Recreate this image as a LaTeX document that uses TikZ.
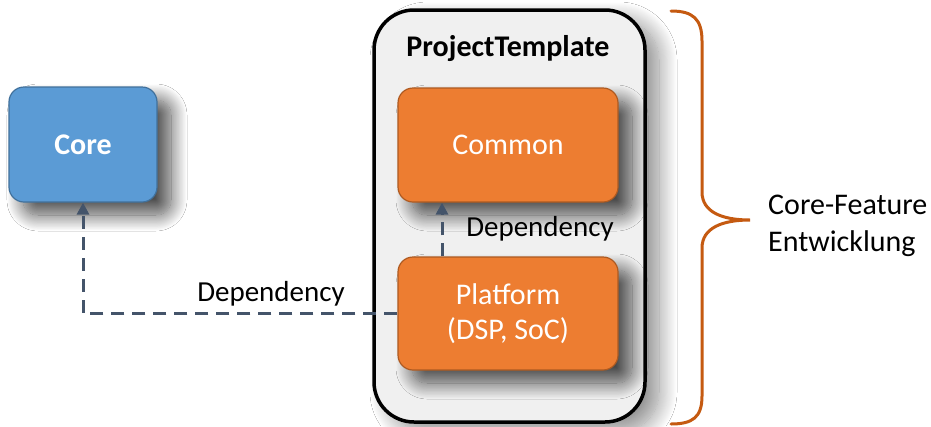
\documentclass[tikz,border=0pt]{standalone}
\usepackage{fontspec}
\setmainfont{Carlito}
\usetikzlibrary{arrows.meta,shadows.blur}

\definecolor{coreblue}{HTML}{5B9BD5}
\definecolor{coreedge}{HTML}{41719C}
\definecolor{orangefill}{HTML}{ED7D31}
\definecolor{orangeedge}{HTML}{AE5A21}
\definecolor{depline}{HTML}{44546A}
\definecolor{bracecol}{HTML}{C55A11}
\definecolor{panelfill}{HTML}{F0F0F0}

\tikzset{
  softshadow/.style={blur shadow={shadow xshift=14pt, shadow yshift=-13pt,
      shadow blur radius=16pt, shadow blur steps=20, shadow opacity=70}},
  boxtext/.style={font=\fontsize{30}{36}\selectfont, text=white, align=center},
  bluebox/.style={draw=coreedge, line width=1.2pt, fill=coreblue, rounded corners=15pt,
      inner sep=0pt, boxtext, font=\fontsize{30}{36}\selectfont\bfseries, softshadow},
  orangebox/.style={draw=orangeedge, line width=1.2pt, fill=orangefill, rounded corners=15pt,
      inner sep=0pt, minimum width=220pt, boxtext, softshadow},
  panel/.style={draw=black, line width=3.5pt, fill=panelfill, rounded corners=40pt,
      inner sep=0pt, blur shadow={shadow xshift=14pt, shadow yshift=-10pt,
      shadow blur radius=18pt, shadow blur steps=20, shadow opacity=45}},
  dep/.style={draw=depline, line width=3pt, dash pattern=on 13pt off 8pt,
      -{Triangle[length=12pt,width=12pt]}},
  deplabel/.style={font=\fontsize{29}{35}\selectfont, text=black, inner sep=0pt},
}

\begin{document}
\begin{tikzpicture}[x=1pt, y=-1pt]
  \useasboundingbox[fill=white] (0,0) rectangle (931,426);

  % project panel with its title
  \node[panel, minimum width=271pt, minimum height=412pt] (proj) at (509.5,216) {};
  \node[font=\fontsize{30}{36}\selectfont\bfseries, inner sep=0pt] (projtitle) at (508,49) {ProjectTemplate};

  % modules
  \node[bluebox, minimum width=148pt, minimum height=115pt] (core) at (83,144.5) {Core};
  \node[orangebox, minimum height=114pt] (comm) at (508,145) {Common};
  \node[orangebox, minimum height=113pt] (plat) at (508,313.5) {Platform\\[-1pt](DSP, SoC)};

  % dependencies
  \draw[dep] ([xshift=-66pt]plat.north) -- ([xshift=-66pt]comm.south);
  \draw[dep] (plat.west) -| (core.south);
  \node[deplabel] (deptop) at (540,229) {Dependency};
  \node[deplabel] (depleft) at (271,294) {Dependency};

  % brace grouping the panel
  \draw[bracecol, line width=3pt, line cap=round]
    (671,11) .. controls (693,11) and (702,19) .. (702,41)
    -- (702,192) .. controls (702,212) and (722,220) .. (750,220)
    .. controls (722,220) and (702,228) .. (702,248)
    -- (702,396) .. controls (702,417) and (693,424) .. (671,424);
  \node[font=\fontsize{30}{37}\selectfont, align=left, anchor=west, inner sep=0pt] (feat) at (768,226)
    {Core-Feature\\Entwicklung};
\end{tikzpicture}
\end{document}
